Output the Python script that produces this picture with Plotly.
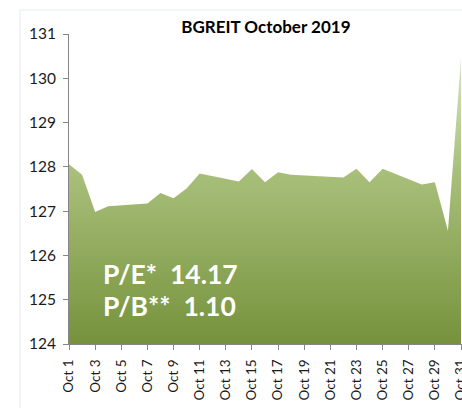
import plotly.graph_objects as go

# ---- data ----
dates = ["2019-10-01", "2019-10-02", "2019-10-03", "2019-10-04", "2019-10-07",
         "2019-10-08", "2019-10-09", "2019-10-10", "2019-10-11", "2019-10-14",
         "2019-10-15", "2019-10-16", "2019-10-17", "2019-10-18", "2019-10-22",
         "2019-10-23", "2019-10-24", "2019-10-25", "2019-10-28", "2019-10-29",
         "2019-10-30", "2019-10-31"]
values = [128.06, 127.82, 126.98, 127.11, 127.17,
          127.41, 127.29, 127.51, 127.85, 127.67,
          127.95, 127.65, 127.88, 127.82, 127.76,
          127.96, 127.65, 127.96, 127.60, 127.65,
          126.56, 130.45]
tick_dates = ["2019-10-%02d" % d for d in range(1, 32, 2)]
tick_labels = ["Oct %d" % d for d in range(1, 32, 2)]
title_text = "BGREIT October 2019"
pe_text = "P/E*\u00a0\u00a014.17"
pb_text = "P/B**\u00a0\u00a01.10"
y_min, y_max = 124, 131

FONT = "Lato"
AXIS_GRAY = "#868686"

fig = go.Figure()
fig.add_trace(go.Scatter(
    x=dates, y=values, mode="lines",
    line=dict(width=0, color="#8aa64d"),
    fill="tozeroy",
    fillgradient=dict(type="vertical", start=y_min, stop=max(values),
                      colorscale=[[0, "#76923c"], [0.6, "#a8bf7a"], [1, "#d6e5c0"]]),
    hoverinfo="skip", showlegend=False,
))

fig.update_layout(
    width=462, height=408,
    margin=dict(l=69, r=0, t=34, b=64, autoexpand=False),
    paper_bgcolor="white", plot_bgcolor="white",
    font=dict(family=FONT, color="#1a1a1a"),
    title=dict(text="<b>%s</b>" % title_text, x=0.501, xref="paper", xanchor="center",
               y=1 - 27.5 / 408, yref="container", yanchor="middle",
               font=dict(family=FONT, size=17, color="#000000")),
    showlegend=False,
)
fig.update_xaxes(
    type="date", range=["2019-10-01 00:00", "2019-10-31 01:50"],
    tickmode="array", tickvals=tick_dates, ticktext=tick_labels,
    tickangle=-90, tickfont=dict(family=FONT, size=13.5, color="#1a1a1a"),
    ticks="outside", ticklen=5, tickcolor=AXIS_GRAY, ticklabelstandoff=4,
    ticklabeloverflow="allow",
    showline=True, linecolor=AXIS_GRAY, linewidth=1,
    showgrid=False, zeroline=False, automargin=False,
)
fig.update_yaxes(
    range=[y_min, y_max], dtick=1,
    tickfont=dict(family=FONT, size=15.5, color="#1a1a1a"),
    ticks="outside", ticklen=5, tickcolor=AXIS_GRAY, ticklabelstandoff=4,
    showline=True, linecolor=AXIS_GRAY, linewidth=1,
    showgrid=False, zeroline=False, automargin=False,
)

for txt, yp in [(pe_text, 0.226), (pb_text, 0.1226)]:
    fig.add_annotation(text="<b>%s</b>" % txt, xref="paper", yref="paper",
                       x=0.0814, y=yp, xanchor="left", yanchor="middle",
                       showarrow=False,
                       font=dict(family=FONT, size=26.5, color="white"))

# faint chart-area frame
fig.add_shape(type="path", xref="paper", yref="paper",
              path="M -0.1247,-0.3 L -0.1247,1.0774 L 1.05,1.0774",
              line=dict(color="#e3e8f0", width=1))

# remove the default 8px page margin so the 462x408 figure fills the window exactly
fig.write_html("out.html", config={"displayModeBar": False},
               post_script="document.body.style.margin='0';")
